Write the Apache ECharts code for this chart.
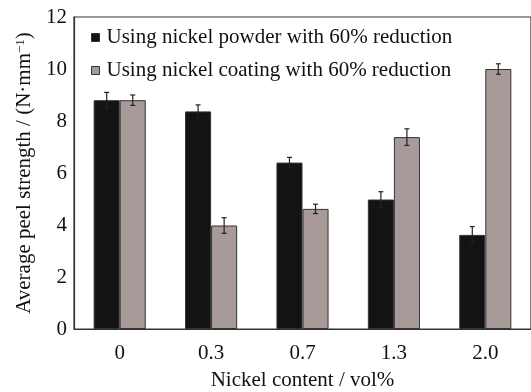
<!DOCTYPE html>
<html><head><meta charset="utf-8">
<script src="https://cdn.jsdelivr.net/npm/echarts@6/dist/echarts.min.js"></script>
<style>html,body{margin:0;padding:0;background:#fff}#c{width:531px;height:392px}</style>
</head><body><div id="c"></div>
<script>
const categories = ['0', '0.3', '0.7', '1.3', '2.0'];
const powderValues = [8.8, 8.37, 6.4, 4.98, 3.62];
const powderErrors = [0.3, 0.25, 0.2, 0.3, 0.32];
const coatingValues = [8.8, 3.98, 4.62, 7.38, 10.0];
const coatingErrors = [0.2, 0.3, 0.18, 0.32, 0.2];
const seriesNames = ['Using nickel powder with 60% reduction', 'Using nickel coating with 60% reduction'];
const colors = ['#131313', '#a89a98'];
const BAR_FRAC = 0.285;

const chart = echarts.init(document.getElementById('c'), null, {renderer: 'canvas'});
const font = 'Liberation Serif';
const FS = 21;

function errSeries(vals, errs, side) {
  return {
    type: 'custom', silent: true, z: 10,
    data: vals.map((v, i) => [i, v, errs[i]]),
    renderItem: function (params, api) {
      const i = api.value(0), v = api.value(1), e = api.value(2);
      const band = api.size([1, 0])[0];
      const bw = band * BAR_FRAC;
      const c = api.coord([i, v]);
      const x = c[0] + side * bw / 2;
      const top = api.coord([i, v + e])[1];
      const bot = api.coord([i, v - e])[1];
      const cap = 2.5;
      const st = {stroke: '#222', lineWidth: 1.2};
      return {type: 'group', children: [
        {type: 'line', shape: {x1: x, y1: top, x2: x, y2: bot}, style: st},
        {type: 'line', shape: {x1: x - cap, y1: top, x2: x + cap, y2: top}, style: st},
        {type: 'line', shape: {x1: x - cap, y1: bot, x2: x + cap, y2: bot}, style: st}
      ]};
    }
  };
}

chart.setOption({
  animation: false,
  grid: {left: 74, right: 0, top: 17, bottom: 63, show: true, borderColor: '#333', borderWidth: 1.2,
         containLabel: false, outerBoundsMode: 'none'},
  legend: {
    orient: 'vertical', left: 86, top: 22, itemGap: 12,
    itemWidth: 8, itemHeight: 8, icon: 'rect',
    textStyle: {fontFamily: font, fontSize: FS, color: '#111', padding: [0,0,0,2]},
    data: seriesNames.map((n, k) => ({name: n, itemStyle: {color: colors[k], borderColor: '#333', borderWidth: 1}}))
  },
  xAxis: {
    type: 'category', data: categories,
    axisLine: {lineStyle: {color: '#333', width: 1.2}},
    axisTick: {show: false},
    axisLabel: {fontFamily: font, fontSize: FS, color: '#111', margin: 14},
    name: 'Nickel content / vol%', nameLocation: 'middle', nameGap: 41,
    nameTextStyle: {fontFamily: font, fontSize: FS, color: '#111'}
  },
  yAxis: {
    type: 'value', min: 0, max: 12, interval: 2,
    axisLine: {show: true, lineStyle: {color: '#333', width: 1.2}},
    axisTick: {show: false},
    splitLine: {show: false},
    axisLabel: {fontFamily: font, fontSize: FS, color: '#111', margin: 7},
    name: '{a|Average peel strength / (N·mm}{b|−1}{a|)}',
    nameLocation: 'middle', nameGap: 35,
    nameTextStyle: {fontFamily: font, fontSize: FS, color: '#111',
      rich: {a: {fontFamily: font, fontSize: FS, color: '#111'}, b: {fontFamily: font, fontSize: 13, color: '#111', verticalAlign: 'top', padding: [0,0,9,0]}}}
  },
  series: [
    {name: seriesNames[0], type: 'bar', data: powderValues, barWidth: (BAR_FRAC*100)+'%', barGap: '0%',
     itemStyle: {color: colors[0], borderColor: '#333', borderWidth: 1}},
    {name: seriesNames[1], type: 'bar', data: coatingValues, barWidth: (BAR_FRAC*100)+'%', barGap: '0%',
     itemStyle: {color: colors[1], borderColor: '#333', borderWidth: 1}},
    errSeries(powderValues, powderErrors, -1),
    errSeries(coatingValues, coatingErrors, 1)
  ]
});
</script></body></html>
